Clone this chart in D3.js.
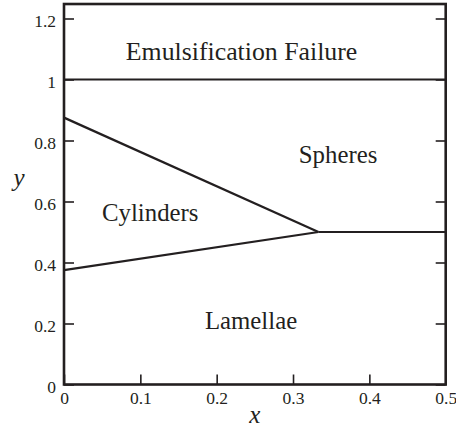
<!DOCTYPE html>
<html><head><meta charset="utf-8">
<script src="https://cdn.jsdelivr.net/npm/d3@7"></script>
<style>body{margin:0;background:#fff}svg{display:block}</style>
</head><body><svg id="c" width="456" height="432"></svg>
<script>
// Phase boundary lines (x, y)
const upperBoundary = [[0, 1], [0.5, 1]];
const cylSphBoundary = [[0, 0.875], [1/3, 0.5]];
const lamCylBoundary = [[0, 0.375], [1/3, 0.5]];
const lamSphBoundary = [[1/3, 0.5], [0.5, 0.5]];
const regionNames = ["Emulsification Failure", "Spheres", "Cylinders", "Lamellae"];
const regionX = [0.2326, 0.359, 0.113, 0.245];
const regionY = [1.064, 0.727, 0.536, 0.183];
const regionSize = [25.8, 24.8, 24.8, 24.8];
const xTicks = [0, 0.1, 0.2, 0.3, 0.4, 0.5];
const yTicks = [0, 0.2, 0.4, 0.6, 0.8, 1, 1.2];

const FONT = "Liberation Serif";
const svg = d3.select("#c");
const L = 64, R = 445.7, B = 384.5;
const x = d3.scaleLinear().domain([0, 0.5]).range([L, R]);
const y = d3.scaleLinear().domain([0, 1]).range([B, B - 305]);
const yTop = 1.2475;
const ink = "#231f20";

const fmt = d => d === 0 ? "0" : d3.format("")(d);

// axes
const xb = svg.append("g").attr("transform", `translate(0,${B})`)
  .call(d3.axisBottom(x).tickValues(xTicks).tickSize(-10).tickPadding(7).tickFormat(fmt));
const xt = svg.append("g").attr("transform", `translate(0,${y(yTop)})`)
  .call(d3.axisTop(x).tickValues(xTicks).tickSize(0).tickFormat(""));
const yl = svg.append("g").attr("transform", `translate(${L},0)`)
  .call(d3.axisLeft(y).tickValues(yTicks).tickSize(-10).tickPadding(8).tickFormat(fmt));
const yr = svg.append("g").attr("transform", `translate(${R},0)`)
  .call(d3.axisRight(y).tickValues(yTicks).tickSize(-10).tickFormat(""));
[xb, xt, yl, yr].forEach(g => {
  g.attr("font-family", FONT).attr("font-size", 17.5);
  g.select(".domain").remove();
  g.selectAll(".tick line").attr("stroke", ink).attr("stroke-width", 1.6);
  g.selectAll("text").attr("fill", ink);
});
yl.selectAll(".tick text").attr("dy", "0.43em");
xb.selectAll(".tick text").attr("dy", "0.71em");
// frame
svg.append("rect").attr("x", L).attr("y", y(yTop)).attr("width", R - L).attr("height", B - y(yTop))
  .attr("fill", "none").attr("stroke", ink).attr("stroke-width", 2.6);

// boundaries
const line = d3.line().x(d => x(d[0])).y(d => y(d[1]));
[upperBoundary, cylSphBoundary, lamCylBoundary, lamSphBoundary].forEach(p => {
  svg.append("path").attr("d", line(p)).attr("fill", "none").attr("stroke", ink).attr("stroke-width", 2.2);
});

// region labels
regionNames.forEach((n, i) => {
  svg.append("text").attr("x", x(regionX[i])).attr("y", y(regionY[i]))
    .attr("text-anchor", "middle").attr("fill", ink)
    .attr("font-family", FONT).attr("font-size", regionSize[i]).text(n);
});

// axis titles
svg.append("text").attr("x", x(0.25)).attr("y", 423).attr("text-anchor", "middle").attr("fill", ink)
  .attr("font-family", FONT).attr("font-size", 25).attr("font-style", "italic").text("x");
svg.append("text").attr("x", 19).attr("y", 186).attr("text-anchor", "middle").attr("fill", ink)
  .attr("font-family", FONT).attr("font-size", 25).attr("font-style", "italic").text("y");
</script></body></html>
